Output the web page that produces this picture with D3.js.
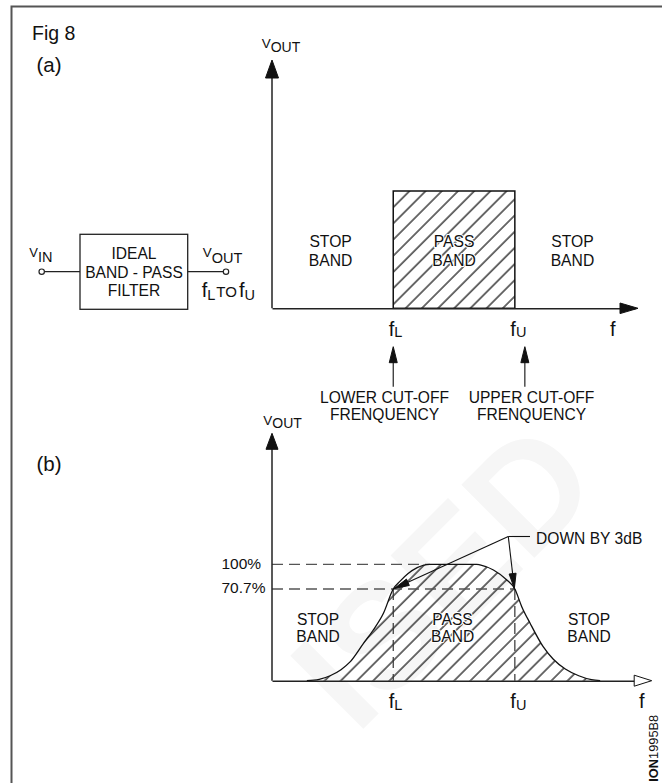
<!DOCTYPE html>
<html><head><meta charset="utf-8">
<script src="https://cdn.jsdelivr.net/npm/d3@7"></script>
<style>
body{margin:0;background:#fff}
svg{display:block}
text{font-family:"Liberation Sans",Arial,Helvetica,sans-serif;fill:#111}
</style>
</head><body>
<svg id="c" width="662" height="783"></svg>
<script>
// ------------------ DATA ------------------
const cutoffNames = ["L", "U"];              // f_L , f_U
const cutoffFreq = [33.4, 66.9];             // relative frequency units
const idealLevel = 100;                      // ideal pass-band output (%)
const regionNames = [["STOP", "BAND"], ["PASS", "BAND"], ["STOP", "BAND"]];
const cutoffCaptions = [["LOWER CUT-OFF", "FRENQUENCY"], ["UPPER CUT-OFF", "FRENQUENCY"]];
const levelTicks = [100, 70.7];
const levelLabels = ["100%", "70.7%"];
const curveFreq  = [9.6, 13, 16, 19, 21.5, 25.2, 27.9, 30.7, 33.4, 35.3, 37.5, 40, 43.5, 56.4, 57.3, 61.0, 64.7, 66.9, 68.8, 71.1, 74.7, 77.5, 80.8, 84.5, 88, 90.4];
const curveLevel = [0,   1,  3.8, 8.5, 14.5, 28.8, 39.1, 52, 70.7, 80, 89, 96, 100, 100, 99.2, 93.3, 81.4, 70.7, 57.1, 44.3, 26.2, 16.5, 9, 3.8, 0.8, 0];
const downLabel = "DOWN BY 3dB";

// ------------------ SCALES ------------------
const xA = d3.scaleLinear().domain([0, 100]).range([272, 635]);
const yA = d3.scaleLinear().domain([0, 100]).range([308.3, 191]);
const xB = d3.scaleLinear().domain([0, 100]).range([272, 635]);
const yB = d3.scaleLinear().domain([0, 70.7, 100]).range([680.7, 589, 564.3]);

const svg = d3.select("#c");
const defs = svg.append("defs");
const pat = defs.append("pattern").attr("id", "hatch")
  .attr("patternUnits", "userSpaceOnUse").attr("width", 11.45).attr("height", 11.45)
  .attr("patternTransform", "rotate(45)");
pat.append("line").attr("x1", 1).attr("y1", -1).attr("x2", 1).attr("y2", 12.5)
  .attr("stroke", "#000").attr("stroke-width", 1.15);

// watermark
svg.append("text").attr("transform", "translate(480,612) rotate(-45)")
  .attr("text-anchor", "middle").attr("font-size", 150).attr("font-weight", "bold")
  .style("fill", "#f6f6f6").text("ISED");

// frame
svg.append("path").attr("d", "M11.5,783 V6.5 H662").attr("fill", "none")
  .attr("stroke", "#555").attr("stroke-width", 2);

function txt(g, x, y, s, size, anchor, extra) {
  const t = g.append("text").attr("x", x).attr("y", y).attr("font-size", size)
    .attr("text-anchor", anchor || "start").text(s);
  if (extra) extra(t);
  return t;
}
function halo(t) { t.attr("stroke", "#fff").attr("stroke-width", 2.2).attr("paint-order", "stroke").attr("stroke-linejoin", "round"); }
function sub(g, x, y, main, subs, size, subSize, dy) {
  const t = g.append("text").attr("x", x).attr("y", y).attr("font-size", size);
  t.append("tspan").text(main);
  t.append("tspan").attr("font-size", subSize).attr("dy", dy).text(subs);
  return t;
}
function arrow(g, tx, ty, ang, len, hw, fill) {
  const c = Math.cos(ang), s = Math.sin(ang);
  const bx = tx - c * len, by = ty - s * len;
  const p = [[tx, ty], [bx - s * hw, by + c * hw], [bx + s * hw, by - c * hw]];
  g.append("path").attr("d", "M" + p.map(d => d.join(",")).join("L") + "Z")
    .attr("fill", fill || "#111").attr("stroke", "#111").attr("stroke-width", 1);
}

const g = svg.append("g");

txt(g, 32, 39.5, "Fig 8", 19.5);
txt(g, 36.5, 72, "(a)", 20.5);
txt(g, 36.5, 471, "(b)", 20.5);

// ---------- circuit block ----------
g.append("rect").attr("x", 80).attr("y", 234.3).attr("width", 107.7).attr("height", 75)
  .attr("fill", "none").attr("stroke", "#222").attr("stroke-width", 1.3);
["IDEAL", "BAND - PASS", "FILTER"].forEach((s, i) => txt(g, 134, 259.3 + i * 18.3, s, 15.6, "middle"));
g.append("line").attr("x1", 44.4).attr("y1", 271.7).attr("x2", 80).attr("y2", 271.7).attr("stroke", "#222").attr("stroke-width", 1.2);
g.append("line").attr("x1", 187.7).attr("y1", 271.7).attr("x2", 223.3).attr("y2", 271.7).attr("stroke", "#222").attr("stroke-width", 1.2);
[41.7, 226].forEach(cx => g.append("circle").attr("cx", cx).attr("cy", 271.7).attr("r", 2.7)
  .attr("fill", "#fff").attr("stroke", "#222").attr("stroke-width", 1.2));
sub(g, 29.3, 257.3, "V", "IN", 13, 14.5, 5);
sub(g, 202.7, 257.3, "V", "OUT", 13.5, 14.5, 5.5);
(function () {
  const t = g.append("text").attr("x", 201.7).attr("y", 296.7).attr("font-size", 20);
  t.append("tspan").text("f");
  t.append("tspan").attr("font-size", 14.5).attr("dy", 3).text("L");
  t.append("tspan").attr("font-size", 15).attr("dy", -3).attr("dx", 1).text("TO");
  t.append("tspan").attr("dx", 2).text("f");
  t.append("tspan").attr("font-size", 14.5).attr("dy", 3).text("U");
})();

// ---------- chart (a): ideal band-pass ----------
const ga = svg.append("g");
ga.append("rect")
  .attr("x", xA(cutoffFreq[0])).attr("y", yA(idealLevel))
  .attr("width", xA(cutoffFreq[1]) - xA(cutoffFreq[0])).attr("height", yA(0) - yA(idealLevel))
  .attr("fill", "url(#hatch)").attr("stroke", "#111").attr("stroke-width", 1.5);
ga.append("g").attr("transform", `translate(0,${yA(0)})`)
  .call(d3.axisBottom(xA).tickValues([]).tickSizeOuter(0))
  .call(a => a.select(".domain").attr("stroke", "#222").attr("stroke-width", 1.5));
ga.append("line").attr("x1", xA(0)).attr("x2", xA(0)).attr("y1", yA(0)).attr("y2", 75)
  .attr("stroke", "#222").attr("stroke-width", 1.5);
arrow(ga, xA(0), 60, -Math.PI / 2, 18, 6.5);
arrow(ga, 638, yA(0), 0, 18, 5.3);
sub(ga, 261.7, 48.3, "V", "OUT", 13.5, 14, 3.4);
txt(ga, 610, 335.5, "f", 20);

const regA = [(xA(0) + xA(cutoffFreq[0])) / 2 - 2, (xA(cutoffFreq[0]) + xA(cutoffFreq[1])) / 2, (xA(cutoffFreq[1]) + xA(100)) / 2 - 2.5];
regionNames.forEach((r, i) => r.forEach((s, j) => txt(ga, regA[i], 247.3 + j * 18.4, s, 15.7, "middle", i === 1 ? halo : null)));

cutoffFreq.forEach((f, i) => {
  const t = ga.append("text").attr("x", xA(f) - 4.5).attr("y", 335.7).attr("font-size", 20);
  t.append("tspan").text("f");
  t.append("tspan").attr("font-size", 14.5).attr("dy", 1.5).text(cutoffNames[i]);
  const ax = xA(f) + (i === 0 ? 0 : 10);
  ga.append("line").attr("x1", ax).attr("x2", ax).attr("y1", 386.7).attr("y2", 360)
    .attr("stroke", "#222").attr("stroke-width", 1.2);
  arrow(ga, ax, 346.7, -Math.PI / 2, 16, 4);
  const cx = i === 0 ? 384.5 : 531.5;
  cutoffCaptions[i].forEach((s, j) => txt(ga, cx, 403.3 + j * 16.8, s, 15.6, "middle"));
});

// ---------- chart (b): practical band-pass ----------
const gb = svg.append("g");
const pts = curveFreq.map((f, i) => [f, curveLevel[i]]);
gb.append("path").datum(pts)
  .attr("d", d3.area().x(d => xB(d[0])).y0(yB(0)).y1(d => yB(d[1])).curve(d3.curveMonotoneX))
  .attr("fill", "url(#hatch)");

const flatStart = curveFreq[curveLevel.indexOf(100)];
levelTicks.forEach((v, i) => {
  const xe = v === 100 ? xB(flatStart) : xB(cutoffFreq[1]);
  gb.append("line").attr("x1", xB(0)).attr("x2", xe).attr("y1", yB(v)).attr("y2", yB(v))
    .attr("stroke", "#555").attr("stroke-width", 1.3).attr("stroke-dasharray", "11,6");
  txt(gb, 221.5, yB(v) + 4.4, levelLabels[i], 15.5);
});
cutoffFreq.forEach(f => {
  gb.append("line").attr("x1", xB(f)).attr("x2", xB(f)).attr("y1", yB(70.7)).attr("y2", yB(0))
    .attr("stroke", "#333").attr("stroke-width", 1.2).attr("stroke-dasharray", "11,6");
});

gb.append("path").datum(pts)
  .attr("d", d3.line().x(d => xB(d[0])).y(d => yB(d[1])).curve(d3.curveMonotoneX))
  .attr("fill", "none").attr("stroke", "#111").attr("stroke-width", 1.3);

gb.append("g").attr("transform", `translate(0,${yB(0)})`)
  .call(d3.axisBottom(xB).tickValues([]).tickSizeOuter(0))
  .call(a => a.select(".domain").attr("stroke", "#222").attr("stroke-width", 1.5));
gb.append("line").attr("x1", xB(0)).attr("x2", xB(0)).attr("y1", yB(0)).attr("y2", 446)
  .attr("stroke", "#222").attr("stroke-width", 1.5);
arrow(gb, xB(0), 433.3, -Math.PI / 2, 16, 6);
arrow(gb, 651.7, yB(0), 0, 17.5, 5.5, "#fff");
sub(gb, 263.3, 425, "V", "OUT", 13.5, 14, 3.4);
txt(gb, 639, 708.3, "f", 20);

const regB = [318, (xB(cutoffFreq[0]) + xB(cutoffFreq[1])) / 2 - 1.5, 589];
regionNames.forEach((r, i) => r.forEach((s, j) => txt(gb, regB[i], 625 + j * 16.8, s, 15.6, "middle", i === 1 ? halo : null)));

cutoffFreq.forEach((f, i) => {
  const t = gb.append("text").attr("x", xB(f) - 4.5).attr("y", 708.3).attr("font-size", 20);
  t.append("tspan").text("f");
  t.append("tspan").attr("font-size", 14.5).attr("dy", 1.7).text(cutoffNames[i]);
});

const ax0 = 508.3, ay0 = 536.5;
gb.append("line").attr("x1", ax0).attr("y1", ay0).attr("x2", 530).attr("y2", ay0).attr("stroke", "#111").attr("stroke-width", 1.1);
cutoffFreq.forEach(f => {
  const tx = xB(f) + (f < 50 ? 1 : -0.5), ty = yB(70.7) - 0.5;
  gb.append("line").attr("x1", ax0).attr("y1", ay0).attr("x2", tx).attr("y2", ty)
    .attr("stroke", "#111").attr("stroke-width", 1.1);
  arrow(gb, tx, ty, Math.atan2(ty - ay0, tx - ax0), 15, 3.5);
});
txt(gb, 536, 544, downLabel, 15.6);

const code = svg.append("text").attr("transform", "translate(658.3,781.7) rotate(-90)").attr("font-size", 12.8);
code.append("tspan").attr("font-weight", "bold").text("ION");
code.append("tspan").text("1995B8");
</script>
</body></html>
